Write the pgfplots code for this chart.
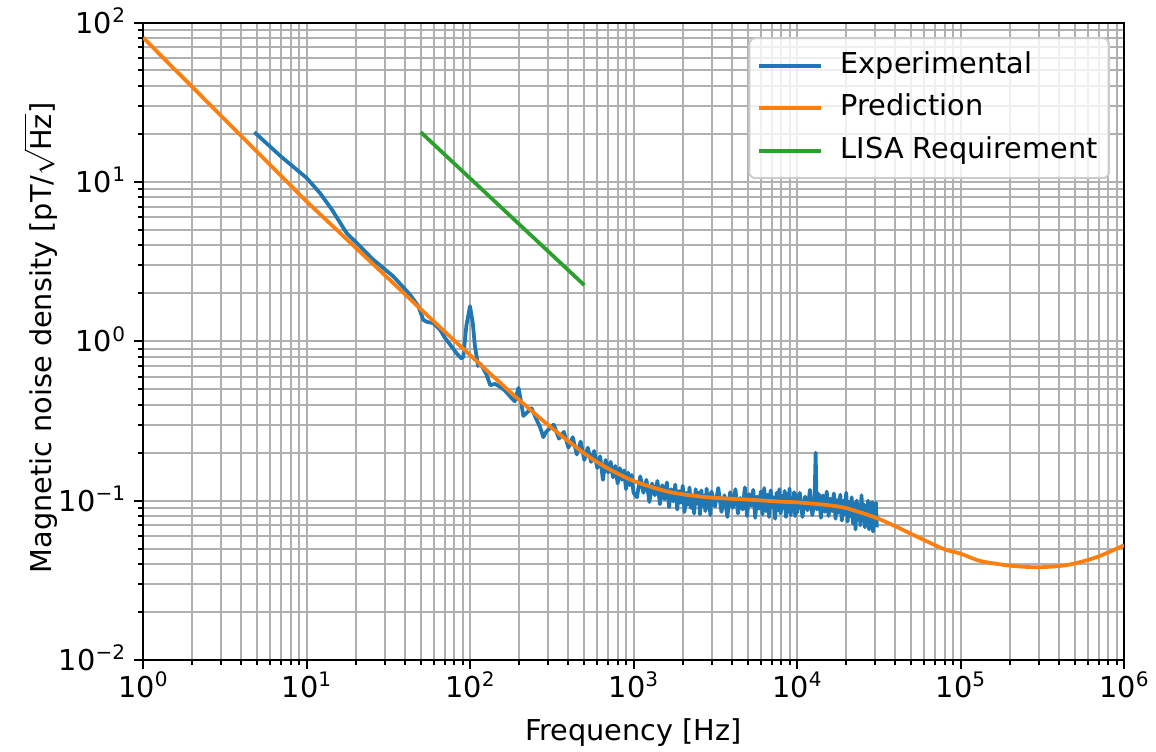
\documentclass[border=0pt]{standalone}
\usepackage{pgfplots}
\pgfplotsset{compat=1.18}
\usepackage{fontspec}
\setmainfont{DejaVu Sans}
\definecolor{c0}{HTML}{1F77B4}
\definecolor{c1}{HTML}{FF7F0E}
\definecolor{c2}{HTML}{2CA02C}
\definecolor{gridgray}{HTML}{B0B0B0}
\definecolor{legedge}{HTML}{CCCCCC}
\newcommand{\tpow}[1]{10\raisebox{4.3pt}{\fontsize{8}{8}\selectfont #1}}
\newcommand{\mfont}{\fontsize{11.5}{13.8}\selectfont}

\begin{document}
\begin{tikzpicture}
\useasboundingbox (-57.2pt,-36.4pt) rectangle (405.2pt,264pt);
\begin{loglogaxis}[
  at={(0pt,0pt)}, anchor=south west,
  scale only axis, width=392.4pt, height=255pt,
  xmin=1, xmax=1e6, ymin=1e-2, ymax=1e2,
  xtick={1,10,100,1000,10000,100000,1000000},
  xticklabels={\tpow{0},\tpow{1},\tpow{2},\tpow{3},\tpow{4},\tpow{5},\tpow{6}},
  minor xtick={2,3,4,5,6,7,8,9,20,30,40,50,60,70,80,90,200,300,400,500,600,700,800,900,2000,3000,4000,5000,6000,7000,8000,9000,20000,30000,40000,50000,60000,70000,80000,90000,200000,300000,400000,500000,600000,700000,800000,900000},
  ytick={0.01,0.1,1,10,100},
  yticklabels={\tpow{−2},\tpow{−1},\tpow{0},\tpow{1},\tpow{2}},
  minor ytick={0.02,0.03,0.04,0.05,0.06,0.07,0.08,0.09,0.2,0.3,0.4,0.5,0.6,0.7,0.8,0.9,2,3,4,5,6,7,8,9,20,30,40,50,60,70,80,90},
  grid=both,
  major grid style={line width=0.8pt, draw=gridgray},
  minor grid style={line width=0.8pt, draw=gridgray},
  tick align=outside, tick pos=left,
  major tick length=3.5pt, minor tick length=2pt,
  tick style={black, line width=0.8pt},
  axis line style={black, line width=0.8pt},
  tick label style={font=\mfont},
  xticklabel style={anchor=north, inner sep=0pt, yshift=-1pt},
  yticklabel style={anchor=base east, inner sep=0pt, xshift=-3.5pt, yshift=-4.2pt},
  every axis x label/.style={at={(axis description cs:0.5,-0.127)}, anchor=base, inner sep=0pt, font=\mfont},
  every axis y label/.style={at={(axis description cs:-0.0935,0.505)}, anchor=base, rotate=90, inner sep=0pt, font=\mfont},
  xlabel={Frequency [Hz]},
  ylabel={Magnetic noise density [pT/$\sqrt{\mbox{Hz}}$]},
  legend cell align=left,
  legend image code/.code={\draw[#1] (0pt,0pt) -- (24.8pt,0pt);},
  legend style={at={(0.9857,0.977)}, anchor=north east, draw=legedge, line width=0.8pt,
    fill=white, fill opacity=0.8, text opacity=1, rounded corners=2.5pt, font=\mfont,
    inner xsep=3pt, inner ysep=4pt, row sep=3pt, column sep=5.8pt,
    nodes={inner sep=1.5pt, text height=8.5pt, text depth=2.5pt}},
  every axis plot/.append style={line width=1.5pt, line join=round},
]
\addplot[c0] coordinates {
(4.8,20.5) (7,14.4) (10,10.6) (12.1,8.5) (14.3,6.7) (17.6,4.77) (20.3,4.13) (25.6,3.25)
(34,2.55) (43,1.96) (48.3,1.66) (51.8,1.36) (55,1.32) (59.6,1.30) (65.6,1.18) (70.3,1.05)
(77,0.93) (82.8,0.84) (88.5,0.78) (91,0.80) (95,1.25) (100,1.66) (104,1.3) (107,0.95)
(112,0.70) (116,0.72) (120,0.68) (126,0.62) (133,0.53) (142,0.54) (152,0.52) (164,0.49)
(176,0.45) (188,0.42) (198,0.51) (205,0.42) (212,0.34) (225,0.36) (238,0.38) (256,0.32)
(268,0.29) (281,0.25) (292,0.27) (303,0.28)
(325,0.30) (350,0.245) (375,0.27) (400,0.215) (425,0.25) (450,0.195) (475,0.235) (500,0.18)
(525,0.215) (550,0.175) (575,0.205) (600,0.16) (625,0.19) (650,0.135) (675,0.18) (700,0.15)
(725,0.175) (750,0.14) (775,0.165) (800,0.128) (825,0.16) (850,0.135) (875,0.155) (900,0.118)
(925,0.15) (950,0.125) (975,0.145) (1000,0.112)
(1050,0.105) (1100,0.142) (1150,0.112) (1200,0.135) (1250,0.098) (1300,0.128) (1350,0.108)
(1400,0.133) (1450,0.095) (1500,0.125) (1550,0.102) (1600,0.13) (1650,0.091) (1700,0.118)
(1750,0.099) (1800,0.126) (1850,0.088) (1900,0.115) (1950,0.097) (2000,0.124) (2050,0.085)
(2100,0.112) (2150,0.094) (2200,0.121) (2250,0.09) (2300,0.108) (2350,0.083) (2400,0.118)
(2450,0.096) (2500,0.112) (2550,0.082) (2600,0.116) (2650,0.093) (2700,0.107) (2750,0.086)
(2800,0.119) (2850,0.09) (2900,0.11) (2950,0.081) (3000,0.114)
(3150,0.092) (3300,0.12) (3450,0.085) (3600,0.108) (3750,0.079) (3900,0.113) (4050,0.09)
(4200,0.118) (4350,0.083) (4500,0.104) (4650,0.088) (4800,0.121) (4950,0.08) (5100,0.11)
(5250,0.093) (5400,0.117) (5550,0.078) (5700,0.106) (5850,0.089) (6000,0.114) (6150,0.082)
(6300,0.12) (6450,0.086) (6600,0.109) (6750,0.079) (6900,0.116) (7050,0.091) (7200,0.105)
(7350,0.077) (7500,0.112) (7650,0.087) (7800,0.118) (7950,0.083) (8100,0.107) (8250,0.09)
(8400,0.115) (8550,0.079) (8700,0.11) (8850,0.085) (9000,0.119) (9150,0.081) (9300,0.104)
(9450,0.088) (9600,0.113) (9750,0.08) (9900,0.109)
(10000,0.084) (10400,0.112) (10800,0.079) (11200,0.106) (11600,0.087) (12000,0.117)
(12400,0.081) (12800,0.1) (13000,0.2) (13200,0.088) (13600,0.11) (14000,0.078) (14400,0.108)
(14800,0.085) (15200,0.114) (15600,0.08) (16000,0.103) (16400,0.086) (16800,0.111)
(17200,0.077) (17600,0.101) (18000,0.084) (18400,0.109) (18800,0.075) (19200,0.1)
(19600,0.082) (20000,0.112) (20400,0.074) (20800,0.098) (21200,0.08) (21600,0.105)
(22000,0.072) (22400,0.096) (22800,0.066) (23200,0.1) (23600,0.078) (24000,0.094)
(24400,0.07) (24800,0.108) (25200,0.076) (25600,0.095) (26000,0.068) (26400,0.092)
(26800,0.075) (27200,0.1) (27600,0.066) (28000,0.095) (28400,0.072) (28800,0.098)
(29200,0.064) (29600,0.09) (30000,0.072) (30400,0.097) (30800,0.068)
};
\addlegendentry{Experimental}
\addplot[c1, smooth] coordinates {
(1,80.5) (1.5,53.0) (2,39.5) (3,26.0) (5,15.4) (7,10.9) (10,7.55) (15,5.10) (20,3.86)
(30,2.61) (50,1.59) (70,1.15) (100,0.820) (150,0.559) (200,0.428) (300,0.299) (500,0.198)
(700,0.159) (1000,0.133) (1500,0.1163) (2000,0.1096) (3000,0.1045) (5000,0.1015)
(8000,0.0985) (10000,0.0975) (15000,0.094) (20000,0.0897) (30000,0.0785) (40000,0.069)
(51400,0.061) (70000,0.0525) (82000,0.049) (100000,0.0465) (130000,0.042) (170000,0.0400)
(210000,0.0389) (300000,0.0382) (450000,0.0395) (680000,0.0442) (1000000,0.0525)
};
\addlegendentry{Prediction}
\addplot[c2] coordinates {(50,20.5) (500,2.25)};
\addlegendentry{LISA Requirement}
\end{loglogaxis}
\end{tikzpicture}
\end{document}
